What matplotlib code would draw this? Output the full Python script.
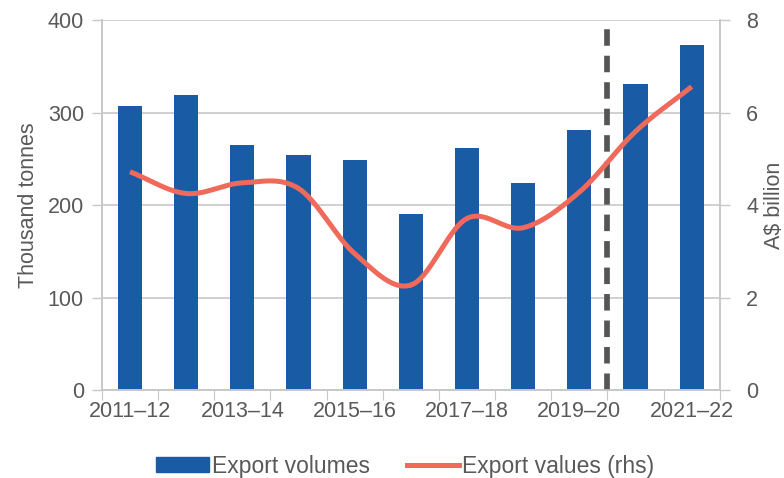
import numpy as np
import matplotlib
matplotlib.use('Agg')
import matplotlib.pyplot as plt
from matplotlib.lines import Line2D
from matplotlib.patches import Patch

plt.rcParams['font.family'] = ['Liberation Sans', 'DejaVu Sans']

# export data, 2011-12 to 2021-22 (last two years are forecasts)
years = ['2011–12', '2012–13', '2013–14', '2014–15', '2015–16', '2016–17',
         '2017–18', '2018–19', '2019–20', '2020–21', '2021–22']
volumes = [307, 319, 265, 254, 249, 190, 262, 224, 281, 331, 373]      # thousand tonnes
values = [4.72, 4.25, 4.48, 4.36, 2.95, 2.27, 3.71, 3.51, 4.28, 5.59, 6.56]  # A$ billion
forecast_split = 8.5
forecast_top = 390

bar_col = '#1a5ba6'
line_col = '#ef6a5a'
txt_col = '#595959'
grid_col = '#c8c8c8'
fs = 15.5


def smooth(x, y, n=30):
    # Catmull-Rom spline through the points, like a spreadsheet "smoothed line"
    x = np.asarray(x, float)
    y = np.asarray(y, float)
    px = np.r_[2 * x[0] - x[1], x, 2 * x[-1] - x[-2]]
    py = np.r_[2 * y[0] - y[1], y, 2 * y[-1] - y[-2]]
    xs, ys = [], []
    t = np.linspace(0, 1, n)
    for i in range(1, len(px) - 2):
        for p, out in ((px, xs), (py, ys)):
            p0, p1, p2, p3 = p[i - 1], p[i], p[i + 1], p[i + 2]
            out.extend(0.5 * ((2 * p1) + (-p0 + p2) * t
                              + (2 * p0 - 5 * p1 + 4 * p2 - p3) * t ** 2
                              + (-p0 + 3 * p1 - 3 * p2 + p3) * t ** 3))
    return np.array(xs), np.array(ys)


fig = plt.figure(figsize=(7.84, 4.78), dpi=100)
ax = fig.add_axes([0.130, 0.184, 0.788, 0.774])
ax2 = ax.twinx()

x = np.arange(len(years))
ax.bar(x, volumes, width=0.43, color=bar_col, zorder=2)
ax.vlines(forecast_split, 0, forecast_top, colors='#555555', lw=4.1,
          linestyles=[(0, (2.9, 1.75))], zorder=3)

sx, sy = smooth(x, values)
ax2.plot(sx, sy, color=line_col, lw=3.6, solid_capstyle='butt', zorder=4)

ax.set_xlim(-0.5, len(years) - 0.5)
ax.set_ylim(0, 400)
ax2.set_ylim(0, 8)
ax.set_yticks(np.arange(0, 401, 100))
ax2.set_yticks(np.arange(0, 9, 2))

# ticks between categories, labels on every second category
ax.set_xticks(np.arange(-0.5, len(years), 1.0))
ax.set_xticklabels([])
ax.set_xticks(x[::2], minor=True)
ax.set_xticklabels(years[::2], minor=True)
ax.tick_params(axis='x', which='minor', length=0, pad=8)
ax.tick_params(axis='x', which='major', length=7, color=grid_col)

ax.yaxis.grid(True, color=grid_col, lw=1.2, zorder=0)
ax.set_axisbelow(True)
for a in (ax, ax2):
    a.tick_params(axis='y', length=7, color=grid_col, labelsize=fs,
                  labelcolor=txt_col, width=1)
    a.tick_params(axis='x', which='both', labelsize=fs, labelcolor=txt_col)
    for s in ('left', 'right', 'bottom'):
        a.spines[s].set_color(grid_col)
        a.spines[s].set_linewidth(1.2)
    a.spines['top'].set_visible(False)
ax.tick_params(axis='y', pad=6)
ax2.tick_params(axis='y', pad=12)

ax.set_ylabel('Thousand tonnes', fontsize=fs, color=txt_col, labelpad=6)
ax2.set_ylabel('A$ billion', fontsize=fs, color=txt_col, labelpad=4)

handles = [Patch(color=bar_col), Line2D([], [], color=line_col, lw=3.6)]
fig.legend(handles, ['Export volumes', 'Export values (rhs)'], ncol=2,
           loc='center', bbox_to_anchor=(0.517, 0.025), frameon=False,
           fontsize=16.5, labelcolor=txt_col, handlelength=2.3,
           handleheight=0.6, handletextpad=0.12, columnspacing=1.6)

fig.savefig('out.png', dpi=100)
